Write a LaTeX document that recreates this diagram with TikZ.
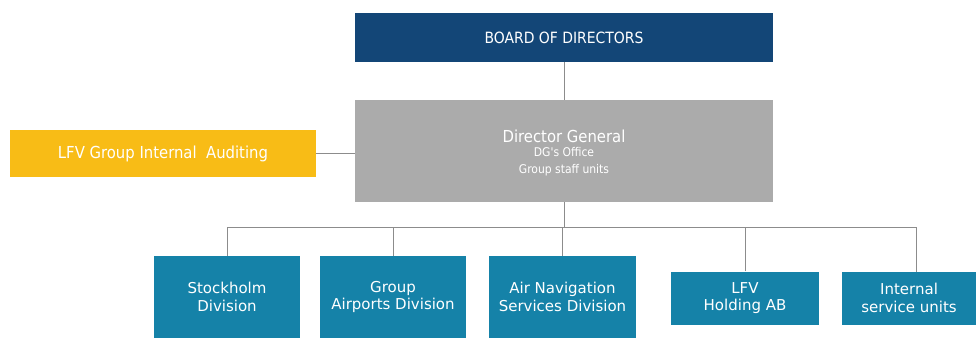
\documentclass[tikz,border=0pt]{standalone}
\usepackage{fontspec}
\setmainfont{DejaVu Sans}
\newfontfamily\condfont{DejaVu Sans Condensed}
\definecolor{navy}{HTML}{134677}
\definecolor{dggray}{HTML}{ABABAB}
\definecolor{teal}{HTML}{1582A8}
\definecolor{gold}{HTML}{F8BC16}
\definecolor{wire}{HTML}{8C8C8C}
\begin{document}
\begin{tikzpicture}[x=1pt,y=1pt,
  box/.style={inner sep=0pt, text=white, align=center, draw=none},
  unitbox/.style={box, fill=teal, font=\fontsize{15}{17.5}\selectfont},
  link/.style={draw=wire, line width=1pt}]
\useasboundingbox (0,0) rectangle (976,-338);

% top of the hierarchy
\node[box, fill=navy, minimum width=418, minimum height=49,
      font=\condfont\fontsize{15.5}{17}\selectfont] (board) at (564,-37.5) {BOARD OF DIRECTORS};
\node[box, fill=dggray, minimum width=418, minimum height=102] (dg) at (564,-151) {};
\node[text=white, font=\condfont\fontsize{16.5}{18}\selectfont] (dgt) at (564,-136) {Director General};
\node[text=white, font=\condfont\fontsize{12}{16.5}\selectfont, align=center] (dgs) at (564,-161.5) {DG's Office\\Group staff units};
\node[box, fill=gold, minimum width=306, minimum height=47,
      font=\condfont\fontsize{16.5}{18}\selectfont] (audit) at (163,-153.5) {LFV Group Internal\ \ Auditing};

% divisions and units
\node[unitbox, minimum width=146, minimum height=82] (sth) at (227,-297) {Stockholm\\Division};
\node[unitbox, minimum width=146, minimum height=82] (gad) at (393,-297) {Group\\Airports Division};
\node[unitbox, minimum width=147, minimum height=82] (ans) at (562.5,-297) {Air Navigation\\Services Division};
\node[unitbox, minimum width=148, minimum height=53] (hold) at (745,-298) {LFV\\Holding AB};
\node[unitbox, minimum width=134, minimum height=53] (isu) at (909,-298) {Internal\\service units};

% connectors
\coordinate (bus) at (564,-227.5);
\draw[link] (board.south) -- (dg.north);
\draw[link] (audit.east) -- (audit.east -| dg.west);
\draw[link] (dg.south) -- (bus);
\draw[link] (sth.north) |- (bus);
\draw[link] (gad.north) |- (bus);
\draw[link] (ans.north) -- (ans.north |- bus);
\draw[link] (hold.north) |- (bus);
\draw[link] (916,-271.5) coordinate (isutop) -- (isutop |- bus) -- (bus);
\end{tikzpicture}
\end{document}
